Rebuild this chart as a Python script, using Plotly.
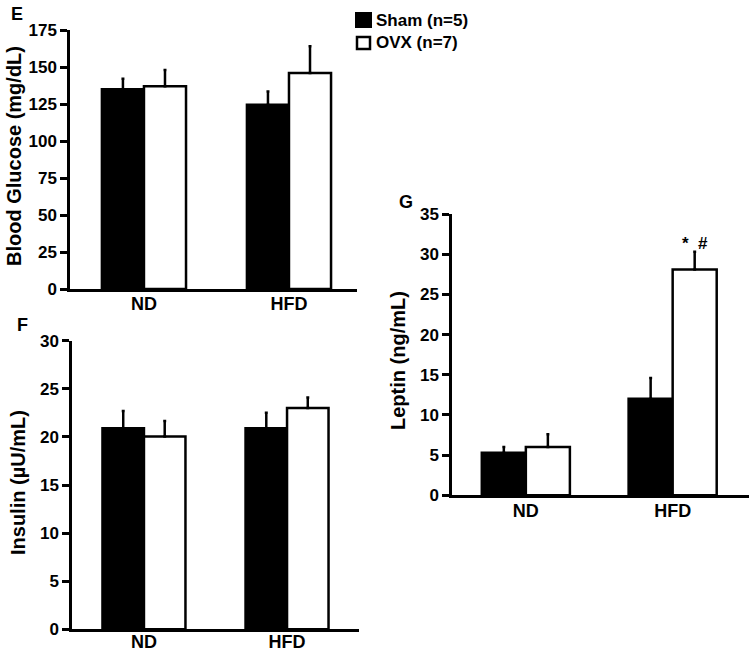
import plotly.graph_objects as go

W, H = 750, 651

groups = ["ND", "HFD"]
series_names = ["Sham (n=5)", "OVX (n=7)"]

glucose_sham = [135, 124.5]
glucose_sham_err = [7, 9]
glucose_ovx = [137, 146]
glucose_ovx_err = [11, 18]

insulin_sham = [20.9, 20.9]
insulin_sham_err = [1.8, 1.6]
insulin_ovx = [20.05, 23.0]
insulin_ovx_err = [1.6, 1.1]

leptin_sham = [5.3, 12.0]
leptin_sham_err = [0.7, 2.6]
leptin_ovx = [6.0, 28.1]
leptin_ovx_err = [1.6, 2.2]

y_ticks_e = [0, 25, 50, 75, 100, 125, 150, 175]
y_ticks_f = [0, 5, 10, 15, 20, 25, 30]
y_ticks_g = [0, 5, 10, 15, 20, 25, 30, 35]

FONT = "Arial, 'Liberation Sans', sans-serif"


def px_x(a, b):
    return [a / W, b / W]


def px_y(bottom, top):
    return [(H - bottom) / H, (H - top) / H]


fig = go.Figure()

panels = [
    ("x", "y", glucose_sham, glucose_sham_err, glucose_ovx, glucose_ovx_err,
     (70, 357), (289, 30), [-0.51, 1.469], [0, 175], y_ticks_e, 0.29, -3),
    ("x2", "y2", insulin_sham, insulin_sham_err, insulin_ovx, insulin_ovx_err,
     (72, 359), (629.3, 340.7), [-0.503, 1.503], [0, 30], y_ticks_f, 0.29, -6),
    ("x3", "y3", leptin_sham, leptin_sham_err, leptin_ovx, leptin_ovx_err,
     (452, 749), (495.3, 214), [-0.503, 1.52], [0, 35], y_ticks_g, 0.30, -3),
]

xpos = [0, 1]
for i, (xa, ya, s, se, o, oe, xd, yd, xr, yr, yt, bw, so) in enumerate(panels):
    for vals, errs, fill, off, name in [(s, se, "black", -bw, series_names[0]),
                                        (o, oe, "white", 0, series_names[1])]:
        fig.add_trace(go.Bar(
            x=xpos, y=vals, width=bw, offset=off, name=name,
            marker=dict(color=fill, line=dict(color="black", width=2.5)),
            error_y=dict(type="data", symmetric=False, array=errs,
                         arrayminus=[0] * len(errs), color="black",
                         thickness=2.5, width=1.5),
            xaxis=xa, yaxis=ya, showlegend=False,
        ))
    suffix = "" if i == 0 else str(i + 1)
    fig.layout["xaxis" + suffix] = dict(
        domain=px_x(*xd), range=xr, anchor=ya, automargin=False,
        tickmode="array", tickvals=xpos, ticktext=groups,
        showline=True, linecolor="black", linewidth=2.5, ticks="",
        ticklabelstandoff=so,
        showgrid=False, zeroline=False,
        tickfont=dict(family=FONT, size=18, color="black", weight="bold"),
    )
    fig.layout["yaxis" + suffix] = dict(
        domain=px_y(*yd), range=yr, anchor=xa, automargin=False,
        tickmode="array", tickvals=yt,
        showline=True, linecolor="black", linewidth=2.5,
        ticks="outside", ticklen=7, tickwidth=2.5, tickcolor="black",
        showgrid=False, zeroline=False,
        tickfont=dict(family=FONT, size=17, color="black", weight="bold"),
    )

ann_font = dict(family=FONT, color="black", weight="bold")


def ax(xp, yp, text, size, angle=0, xanchor="center"):
    fig.add_annotation(x=xp / W, y=(H - yp) / H, xref="paper", yref="paper",
                       text=text, showarrow=False, textangle=angle,
                       xanchor=xanchor, yanchor="middle",
                       font=dict(size=size, **ann_font))


# axis titles
ax(14, 156, "Blood Glucose (mg/dL)", 20, -90)
ax(18, 483, "Insulin (µU/mL)", 20, -90)
ax(398, 360, "Leptin (ng/mL)", 20, -90)

# panel letters
ax(17, 14, "E", 18)
ax(22, 325, "F", 18)
ax(406, 202, "G", 18)

# significance marks on OVX HFD bar of leptin panel
fig.add_annotation(x=1 + 0.15, y=leptin_ovx[1] + leptin_ovx_err[1], xref="x3", yref="y3",
                   text="*  #", showarrow=False, yanchor="bottom", yshift=-3,
                   font=dict(size=17, **ann_font))

# legend (manual)
fig.add_shape(type="rect", xref="paper", yref="paper",
              x0=356 / W, x1=371 / W, y0=(H - 27) / H, y1=(H - 13) / H,
              fillcolor="black", line=dict(color="black", width=2))
fig.add_shape(type="rect", xref="paper", yref="paper",
              x0=357 / W, x1=370 / W, y0=(H - 49) / H, y1=(H - 37) / H,
              fillcolor="white", line=dict(color="black", width=2.5))
ax(374, 20, series_names[0], 17, xanchor="left")
ax(374, 43, series_names[1], 17, xanchor="left")

fig.update_layout(
    width=W, height=H, margin=dict(l=0, r=0, t=0, b=0, autoexpand=False),
    paper_bgcolor="white", plot_bgcolor="white",
    barmode="overlay", showlegend=False,
)

fig.write_html("out.html", config={"displayModeBar": False},
               post_script="document.body.style.margin='0px';document.body.style.overflow='hidden';")
